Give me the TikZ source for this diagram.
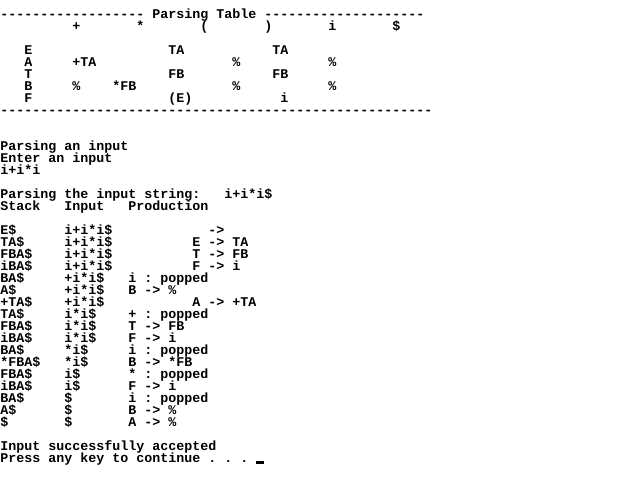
\documentclass[tikz,border=0pt]{standalone}
\usepackage{fontspec}
\setmonofont{Liberation Mono}
\tikzset{txt/.style={font=\ttfamily\bfseries\fontsize{10}{12}\selectfont,anchor=base west,inner sep=0pt}}

\begin{document}
\begin{tikzpicture}[x=0.75pt,y=-0.75pt]
\useasboundingbox (0,0) rectangle (642,476);
% parsing table
\node[txt] (top) at (0,18) {------------------ Parsing Table --------------------};
\foreach \c/\t [count=\n] in {9/+,17/*,25/{(},33/{)},41/i,49/\$}
  \node[txt] (h\n) at (\c*8,30) {\t};
\foreach \c/\t [count=\n] in {3/E,21/TA,34/TA}
  \node[txt] (e\n) at (\c*8,54) {\t};
\foreach \c/\t [count=\n] in {3/A,9/+TA,29/\%,41/\%}
  \node[txt] (a\n) at (\c*8,66) {\t};
\foreach \c/\t [count=\n] in {3/T,21/FB,34/FB}
  \node[txt] (t\n) at (\c*8,78) {\t};
\foreach \c/\t [count=\n] in {3/B,9/\%,14/*FB,29/\%,41/\%}
  \node[txt] (b\n) at (\c*8,90) {\t};
\foreach \c/\t [count=\n] in {3/F,21/{(E)},35/i}
  \node[txt] (f\n) at (\c*8,102) {\t};
\node[txt] (bot) at (0,114) {------------------------------------------------------};
% input
\node[txt] (l0) at (0,150) {Parsing an input};
\node[txt] (l1) at (0,162) {Enter an input};
\node[txt] (l2) at (0,174) {i+i*i};
\node[txt] (l4) at (0,198) {Parsing the input string:};
\node[txt] (str) at (224,198) {i+i*i\$};
\node[txt] (stk) at (0,210) {Stack};
\node[txt] (inp) at (64,210) {Input};
\node[txt] (prd) at (128,210) {Production};
% trace
\foreach \r/\s/\inp/\c/\p in {7/E\$/i+i*i\$/26/->,
    8/TA\$/i+i*i\$/24/E -> TA, 9/FBA\$/i+i*i\$/24/T -> FB,
    10/iBA\$/i+i*i\$/24/F -> i, 11/BA\$/+i*i\$/16/i : popped,
    12/A\$/+i*i\$/16/B -> \%, 13/+TA\$/+i*i\$/24/A -> +TA,
    14/TA\$/i*i\$/16/+ : popped, 15/FBA\$/i*i\$/16/T -> FB,
    16/iBA\$/i*i\$/16/F -> i, 17/BA\$/*i\$/16/i : popped,
    18/*FBA\$/*i\$/16/B -> *FB, 19/FBA\$/i\$/16/* : popped,
    20/iBA\$/i\$/16/F -> i, 21/BA\$/\$/16/i : popped,
    22/A\$/\$/16/B -> \%, 23/\$/\$/16/A -> \%} {
  \node[txt] (s\r) at (0,150+12*\r) {\s};
  \node[txt] (i\r) at (64,150+12*\r) {\inp};
  \node[txt] (p\r) at (\c*8,150+12*\r) {\p};
}
\node[txt] (ok) at (0,450) {Input successfully accepted};
\node[txt] (key) at (0,462) {Press any key to continue . . .};
\fill (256,461) rectangle (264,464);
\end{tikzpicture}
\end{document}
